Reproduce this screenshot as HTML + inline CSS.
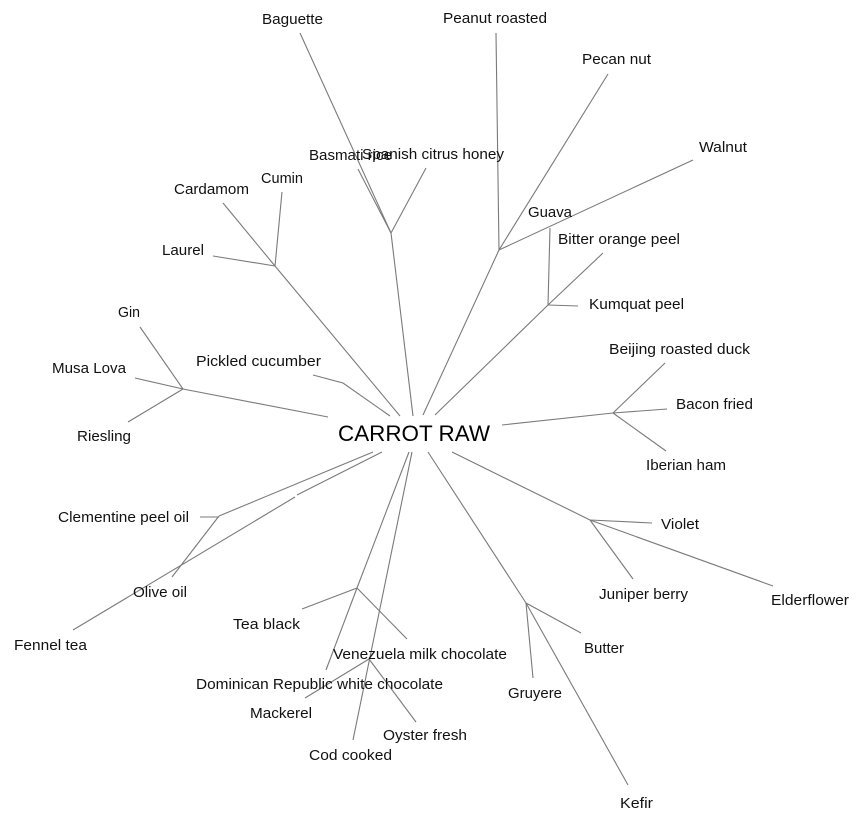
<!DOCTYPE html>
<html>
<head>
<meta charset="utf-8">
<style>
  html,body{margin:0;padding:0;background:#fff;}
  svg{display:block;}
  text{font-family:"Liberation Sans",Arial,sans-serif;font-size:15px;fill:#111;}
  line,polyline{stroke:#7a7a7a;stroke-width:1.1;fill:none;}
</style>
</head>
<body>
<svg width="864" height="822" viewBox="0 0 864 822" xmlns="http://www.w3.org/2000/svg">
  <!-- top cluster: Baguette / Basmati / Spanish -->
  <line x1="300" y1="33" x2="391" y2="233"/>
  <line x1="358" y1="169" x2="391" y2="233"/>
  <line x1="426" y1="168" x2="391" y2="233"/>
  <line x1="391" y1="233" x2="413" y2="416"/>
  <!-- nuts -->
  <line x1="496" y1="33" x2="499" y2="250"/>
  <line x1="608" y1="74" x2="499" y2="250"/>
  <line x1="693" y1="160" x2="499" y2="250"/>
  <line x1="499" y1="250" x2="423" y2="415"/>
  <!-- guava / citrus -->
  <line x1="550" y1="228" x2="548" y2="305"/>
  <line x1="603" y1="253" x2="548" y2="305"/>
  <line x1="578" y1="306" x2="548" y2="305"/>
  <line x1="548" y1="305" x2="435" y2="415"/>
  <!-- spices -->
  <line x1="223" y1="203" x2="275" y2="266"/>
  <line x1="282" y1="192" x2="275" y2="266"/>
  <line x1="213" y1="256" x2="275" y2="266"/>
  <line x1="275" y1="266" x2="400" y2="416"/>
  <!-- pickled cucumber -->
  <polyline points="313,375 343,383 390,416"/>
  <!-- gin / musa / riesling -->
  <line x1="140" y1="327" x2="183" y2="389"/>
  <line x1="135" y1="378" x2="183" y2="389"/>
  <line x1="128" y1="422" x2="183" y2="389"/>
  <line x1="183" y1="389" x2="328" y2="417"/>
  <!-- meats -->
  <line x1="665" y1="363" x2="613" y2="413"/>
  <line x1="667" y1="409" x2="613" y2="413"/>
  <line x1="666" y1="451" x2="613" y2="413"/>
  <line x1="613" y1="413" x2="502" y2="425"/>
  <!-- flowers -->
  <line x1="652" y1="523" x2="590" y2="520"/>
  <line x1="633" y1="579" x2="590" y2="520"/>
  <line x1="773" y1="586" x2="590" y2="520"/>
  <line x1="590" y1="520" x2="452" y2="452"/>
  <!-- dairy -->
  <line x1="581" y1="633" x2="526" y2="603"/>
  <line x1="533" y1="678" x2="526" y2="603"/>
  <line x1="628" y1="785" x2="526" y2="603"/>
  <line x1="526" y1="603" x2="428" y2="452"/>
  <!-- clementine / olive / fennel -->
  <line x1="373" y1="452" x2="219" y2="516"/>
  <line x1="200" y1="517" x2="219" y2="517"/>
  <line x1="219" y1="516" x2="172" y2="577"/>
  <line x1="382" y1="452" x2="297" y2="495"/>
  <line x1="295" y1="497" x2="73" y2="630"/>
  <!-- tea / chocolate -->
  <line x1="409" y1="452" x2="357" y2="588"/>
  <line x1="302" y1="609" x2="357" y2="588"/>
  <line x1="357" y1="588" x2="407" y2="639"/>
  <line x1="357" y1="588" x2="326" y2="670"/>
  <!-- fish -->
  <line x1="412" y1="452" x2="353" y2="740"/>
  <line x1="305" y1="698" x2="369" y2="659"/>
  <line x1="416" y1="722" x2="369" y2="659"/>

  <!-- labels -->
  <text x="262" y="24" textLength="61" lengthAdjust="spacingAndGlyphs">Baguette</text>
  <text x="443" y="23" textLength="104" lengthAdjust="spacingAndGlyphs">Peanut roasted</text>
  <text x="582" y="64" textLength="69" lengthAdjust="spacingAndGlyphs">Pecan nut</text>
  <text x="699" y="152" textLength="48" lengthAdjust="spacingAndGlyphs">Walnut</text>
  <text x="309" y="160" textLength="83" lengthAdjust="spacingAndGlyphs">Basmati rice</text>
  <text x="362" y="159" textLength="142" lengthAdjust="spacingAndGlyphs">Spanish citrus honey</text>
  <text x="261" y="183" textLength="42" lengthAdjust="spacingAndGlyphs">Cumin</text>
  <text x="174" y="194" textLength="75" lengthAdjust="spacingAndGlyphs">Cardamom</text>
  <text x="162" y="255" textLength="42" lengthAdjust="spacingAndGlyphs">Laurel</text>
  <text x="528" y="217" textLength="44" lengthAdjust="spacingAndGlyphs">Guava</text>
  <text x="558" y="244" textLength="122" lengthAdjust="spacingAndGlyphs">Bitter orange peel</text>
  <text x="589" y="309" textLength="95" lengthAdjust="spacingAndGlyphs">Kumquat peel</text>
  <text x="118" y="317" textLength="22" lengthAdjust="spacingAndGlyphs">Gin</text>
  <text x="52" y="373" textLength="74" lengthAdjust="spacingAndGlyphs">Musa Lova</text>
  <text x="77" y="441" textLength="54" lengthAdjust="spacingAndGlyphs">Riesling</text>
  <text x="196" y="366" textLength="125" lengthAdjust="spacingAndGlyphs">Pickled cucumber</text>
  <text x="338" y="441" style="font-size:22px;fill:#000" textLength="152" lengthAdjust="spacingAndGlyphs">CARROT RAW</text>
  <text x="609" y="354" textLength="141" lengthAdjust="spacingAndGlyphs">Beijing roasted duck</text>
  <text x="676" y="409" textLength="77" lengthAdjust="spacingAndGlyphs">Bacon fried</text>
  <text x="646" y="470" textLength="80" lengthAdjust="spacingAndGlyphs">Iberian ham</text>
  <text x="661" y="529" textLength="38" lengthAdjust="spacingAndGlyphs">Violet</text>
  <text x="599" y="599" textLength="89" lengthAdjust="spacingAndGlyphs">Juniper berry</text>
  <text x="771" y="605" textLength="78" lengthAdjust="spacingAndGlyphs">Elderflower</text>
  <text x="584" y="653" textLength="40" lengthAdjust="spacingAndGlyphs">Butter</text>
  <text x="508" y="698" textLength="54" lengthAdjust="spacingAndGlyphs">Gruyere</text>
  <text x="620" y="808" textLength="33" lengthAdjust="spacingAndGlyphs">Kefir</text>
  <text x="58" y="522" textLength="131" lengthAdjust="spacingAndGlyphs">Clementine peel oil</text>
  <text x="133" y="597" textLength="54" lengthAdjust="spacingAndGlyphs">Olive oil</text>
  <text x="14" y="650" textLength="73" lengthAdjust="spacingAndGlyphs">Fennel tea</text>
  <text x="233" y="629" textLength="67" lengthAdjust="spacingAndGlyphs">Tea black</text>
  <text x="333" y="659" textLength="174" lengthAdjust="spacingAndGlyphs">Venezuela milk chocolate</text>
  <text x="196" y="689" textLength="247" lengthAdjust="spacingAndGlyphs">Dominican Republic white chocolate</text>
  <text x="250" y="718" textLength="62" lengthAdjust="spacingAndGlyphs">Mackerel</text>
  <text x="383" y="740" textLength="84" lengthAdjust="spacingAndGlyphs">Oyster fresh</text>
  <text x="309" y="760" textLength="83" lengthAdjust="spacingAndGlyphs">Cod cooked</text>
</svg>
</body>
</html>
